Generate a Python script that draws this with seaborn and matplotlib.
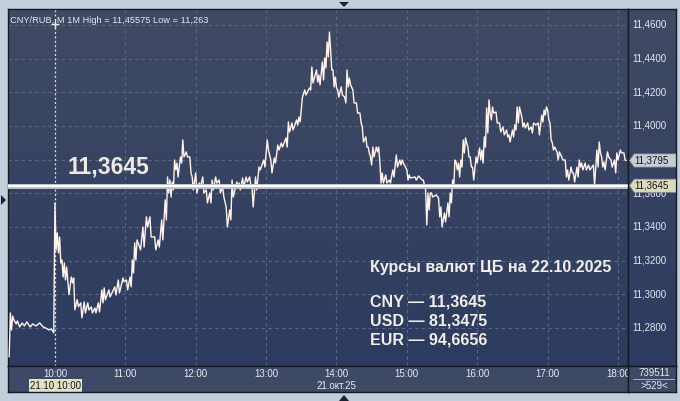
import numpy as np
import pandas as pd
import seaborn as sns
import matplotlib.pyplot as plt
from matplotlib.patches import Polygon, Rectangle
from matplotlib.colors import LinearSegmentedColormap

# previous session tail (minutes relative to 10:00 open)
pre_minutes = [-39, -38, -37, -36, -35, -33, -32, -30, -28, -26,
               -24, -21, -19, -16, -13, -10, -8, -5, -3, -1]
pre_prices = [11.2628, 11.2889, 11.2788, 11.2871, 11.2848, 11.2824, 11.2842, 11.2806, 11.2830, 11.2812,
              11.2836, 11.2806, 11.2824, 11.2812, 11.2830, 11.2806, 11.2800, 11.2788, 11.2794, 11.2771]

day_minutes = [
    0, 1, 2, 3, 4, 5, 6, 7, 8, 9,
    10, 12, 14, 15, 16, 17, 19, 20, 22, 23,
    25, 26, 28, 29, 31, 32, 34, 35, 37, 38,
    40, 41, 42, 43, 46, 47, 51, 52, 54, 55,
    58, 59, 61, 62, 64, 65, 66, 67, 68, 69,
    70, 73, 75, 76, 78, 79, 81, 82, 85, 86,
    88, 89, 91, 92, 94, 95, 96, 97, 98, 99,
    100, 101, 102, 103, 104, 105, 107, 108, 109, 110,
    112, 113, 115, 116, 117, 118, 120, 121, 123, 124,
    126, 127, 129, 130, 132, 133, 134, 135, 137, 138,
    140, 141, 143, 144, 146, 147, 149, 150, 151, 152,
    155, 156, 157, 158, 160, 161, 163, 164, 166, 167,
    168, 169, 171, 172, 174, 175, 178, 179, 181, 182,
    184, 185, 187, 188, 190, 191, 193, 194, 197, 198,
    199, 200, 202, 203, 206, 207, 208, 209, 211, 213,
    214, 217, 218, 219, 220, 223, 224, 225, 226, 228,
    229, 230, 231, 232, 233, 234, 235, 236, 237, 238,
    239, 240, 241, 242, 244, 245, 247, 248, 249, 250,
    251, 252, 254, 255, 257, 258, 260, 261, 262, 263,
    265, 266, 267, 268, 269, 270, 271, 272, 274, 275,
    276, 277, 278, 279, 280, 282, 283, 285, 286, 288,
    289, 291, 292, 294, 295, 296, 297, 300, 301, 302,
    303, 307, 308, 310, 313, 314, 315, 316, 317, 318,
    319, 320, 321, 322, 325, 327, 328, 329, 330, 332,
    333, 335, 336, 337, 338, 339, 340, 341, 342, 343,
    344, 345, 346, 347, 348, 349, 350, 351, 352, 353,
    354, 355, 356, 357, 359, 360, 362, 363, 364, 365,
    366, 367, 368, 369, 370, 371, 372, 373, 374, 376,
    377, 379, 380, 382, 383, 385, 386, 387, 388, 390,
    391, 392, 393, 394, 395, 396, 398, 399, 400, 401,
    403, 404, 406, 407, 408, 410, 412, 413, 415, 416,
    417, 418, 419, 420, 421, 422, 423, 424, 425, 426,
    428, 429, 430, 432, 433, 435, 436, 437, 438, 440,
    441, 442, 443, 445, 446, 447, 448, 449, 450, 452,
    453, 455, 456, 459, 460, 462, 463, 464, 465, 466,
    467, 468, 469, 471, 472, 474, 475, 477, 478, 479,
    480, 482, 483, 485, 486, 487,
]
day_prices = [
    11.3543, 11.3263, 11.3365, 11.3246, 11.3340, 11.3186, 11.3204, 11.3103, 11.3186, 11.3085,
    11.3162, 11.2998, 11.3103, 11.3068, 11.3097, 11.2908, 11.2968, 11.2926, 11.2949, 11.2860,
    11.2955, 11.2889, 11.2949, 11.2907, 11.2925, 11.2889, 11.2919, 11.2889, 11.2949, 11.2895,
    11.3026, 11.2949, 11.3038, 11.2967, 11.3026, 11.2984, 11.3044, 11.2996, 11.3085, 11.3008,
    11.3097, 11.3074, 11.3085, 11.3026, 11.3103, 11.3044, 11.3204, 11.3127, 11.3305, 11.3204,
    11.3323, 11.3264, 11.3400, 11.3281, 11.3460, 11.3400, 11.3460, 11.3341, 11.3341, 11.3264,
    11.3323, 11.3281, 11.3442, 11.3323, 11.3561, 11.3442, 11.3697, 11.3602, 11.3679, 11.3578,
    11.3667, 11.3620, 11.3798, 11.3739, 11.3780, 11.3697, 11.3816, 11.3780, 11.3917, 11.3816,
    11.3846, 11.3816, 11.3816, 11.3721, 11.3697, 11.3620, 11.3721, 11.3602, 11.3661, 11.3638,
    11.3697, 11.3602, 11.3620, 11.3543, 11.3602, 11.3543, 11.3679, 11.3620, 11.3697, 11.3661,
    11.3679, 11.3602, 11.3638, 11.3578, 11.3519, 11.3400, 11.3501, 11.3442, 11.3679, 11.3578,
    11.3667, 11.3638, 11.3661, 11.3620, 11.3691, 11.3638, 11.3697, 11.3667, 11.3697, 11.3650,
    11.3638, 11.3519, 11.3697, 11.3620, 11.3756, 11.3739, 11.3798, 11.3756, 11.3917, 11.3857,
    11.3798, 11.3721, 11.3810, 11.3780, 11.3887, 11.3857, 11.3899, 11.3875, 11.3929, 11.3875,
    11.4024, 11.3964, 11.4018, 11.3976, 11.4036, 11.4006, 11.4053, 11.4024, 11.4172, 11.4214,
    11.4184, 11.4226, 11.4214, 11.4351, 11.4255, 11.4333, 11.4261, 11.4303, 11.4244, 11.4380,
    11.4273, 11.4404, 11.4345, 11.4499, 11.4410, 11.4558, 11.4451, 11.4333, 11.4333, 11.4232,
    11.4291, 11.4226, 11.4214, 11.4172, 11.4232, 11.4184, 11.4172, 11.4137, 11.4333, 11.4232,
    11.4285, 11.4244, 11.4214, 11.4137, 11.4137, 11.4077, 11.4077, 11.4018, 11.3994, 11.3905,
    11.3935, 11.3875, 11.3875, 11.3840, 11.3816, 11.3768, 11.3875, 11.3816, 11.3875, 11.3846,
    11.3875, 11.3780, 11.3661, 11.3721, 11.3661, 11.3709, 11.3661, 11.3679, 11.3661, 11.3739,
    11.3697, 11.3828, 11.3756, 11.3798, 11.3768, 11.3798, 11.3780, 11.3739, 11.3679, 11.3709,
    11.3691, 11.3697, 11.3679, 11.3703, 11.3679, 11.3679, 11.3650, 11.3620, 11.3412, 11.3602,
    11.3501, 11.3602, 11.3602, 11.3578, 11.3590, 11.3572, 11.3460, 11.3519, 11.3400, 11.3483,
    11.3430, 11.3543, 11.3460, 11.3602, 11.3543, 11.3679, 11.3638, 11.3798, 11.3786, 11.3739,
    11.3780, 11.3697, 11.3798, 11.3756, 11.3917, 11.3840, 11.3929, 11.3899, 11.3875, 11.3816,
    11.3816, 11.3756, 11.3756, 11.3679, 11.3816, 11.3780, 11.3869, 11.3798, 11.3857, 11.3780,
    11.3935, 11.3875, 11.4107, 11.3958, 11.4155, 11.4077, 11.4036, 11.4113, 11.4077, 11.4083,
    11.4018, 11.4018, 11.3964, 11.3994, 11.3947, 11.3976, 11.3935, 11.3947, 11.3905, 11.3976,
    11.3935, 11.4006, 11.3976, 11.4113, 11.4018, 11.4113, 11.4053, 11.3994, 11.4018, 11.3988,
    11.4018, 11.3976, 11.3994, 11.3958, 11.4018, 11.4006, 11.4018, 11.3947, 11.4065, 11.4024,
    11.4095, 11.4065, 11.4113, 11.4095, 11.4036, 11.4018, 11.3917, 11.3899, 11.3857, 11.3875,
    11.3846, 11.3798, 11.3846, 11.3816, 11.3798, 11.3798, 11.3697, 11.3739, 11.3679, 11.3756,
    11.3721, 11.3721, 11.3667, 11.3756, 11.3697, 11.3798, 11.3756, 11.3780, 11.3739, 11.3780,
    11.3739, 11.3768, 11.3739, 11.3768, 11.3650, 11.3857, 11.3756, 11.3905, 11.3840, 11.3816,
    11.3756, 11.3786, 11.3739, 11.3846, 11.3816, 11.3798, 11.3756, 11.3798, 11.3721, 11.3840,
    11.3798, 11.3857, 11.3840, 11.3840, 11.3798, 11.3795,
]
assert len(day_minutes) == len(day_prices)

# 11,3800 sits under the last-price tag, so it is not written out
price_ticks = [11.28, 11.30, 11.32, 11.34, 11.36, 11.38, 11.40, 11.42, 11.44, 11.46]
price_labels = ["11,2800", "11,3000", "11,3200", "11,3400", "11,3600", "", "11,4000", "11,4200", "11,4400", "11,4600"]
hour_ticks = [0, 60, 120, 180, 240, 300, 360, 420, 480]
hour_labels = ["10:00", "11:00", "12:00", "13:00", "14:00", "15:00", "16:00", "17:00", "18:00"]

cb_rate = 11.3645
last_price = 11.3795
rates_title = "Курсы валют ЦБ на 22.10.2025"
rates_lines = ["CNY — 11,3645", "USD — 81,3475", "EUR — 94,6656"]

df = pd.DataFrame({"minute": pre_minutes + day_minutes, "price": pre_prices + day_prices})

sns.set_style("white")
plt.rcParams["font.family"] = ["Liberation Sans", "DejaVu Sans"]

W, H = 680, 401
XMIN, XMAX = -40, 488.5
YMIN, YMAX = 11.2574, 11.4695


def box(x0, y0, x1, y1):
    # pixel box (top-left origin) -> figure fraction rect
    return [x0 / W, 1 - y1 / H, (x1 - x0) / W, (y1 - y0) / H]


fig = plt.figure(figsize=(6.8, 4.01), dpi=100, facecolor="#c3cedc")
grad = LinearSegmentedColormap.from_list("bg", ["#404a63", "#2c3b5f"])
gvals = np.linspace(0, 1, 256).reshape(-1, 1)

# main chart
ax = fig.add_axes(box(8, 9, 628, 366))
ax.imshow(gvals, cmap=grad, extent=[XMIN, XMAX, YMIN, YMAX], aspect="auto", zorder=0)
for v in price_ticks:
    ax.axhline(v, color="#5a6682", lw=0.8, ls=(0, (3, 3)), zorder=1)
for m in hour_ticks[1:]:
    ax.axvline(m, color="#5a6682", lw=0.8, ls=(0, (3, 3)), zorder=1)
ax.axvline(0, color="#e8ecf2", lw=0.9, ls=(0, (1.5, 2)), zorder=2)

sns.lineplot(data=df, x="minute", y="price", ax=ax, color="#fff3ec", lw=1.0,
             estimator=None, sort=False, zorder=4)

ax.axhline(cb_rate, color="#b8bdc8", lw=3.6, zorder=5)
ax.axhline(cb_rate, color="#ffffff", lw=1.6, zorder=6)

ax.text(11, 11.3757, "11,3645", fontsize=16.5, fontweight="bold", color="#efe9e3",
        ha="left", va="center", zorder=7)
ax.text(269, 11.3157, rates_title, fontsize=11.5, fontweight="bold", color="#f2efea",
        ha="left", va="center", zorder=7)
for txt, yv in zip(rates_lines, [11.2955, 11.2842, 11.2729]):
    ax.text(269, yv, txt, fontsize=11.5, fontweight="bold", color="#f2efea",
            ha="left", va="center", zorder=7)

ax.text(-38.3, 11.4628, "CNY/RUB, M 1M High = 11,45575 Low = 11,263", fontsize=6.7,
        color="#e6e9ef", ha="left", va="center", zorder=7)
ax.plot([0], [11.4608], marker="+", ms=6, mew=1, color="#e8ecf2", zorder=7)

ax.set_xlim(XMIN, XMAX)
ax.set_ylim(YMIN, YMAX)
ax.set_xticks([])
ax.set_yticks([])
ax.set_xlabel("")
ax.set_ylabel("")
for s in ax.spines.values():
    s.set_color("#151a26")
    s.set_linewidth(1)

# price scale panel
pax = fig.add_axes(box(628, 9, 676, 366))
pax.imshow(gvals, cmap=grad, extent=[0, 1, YMIN, YMAX], aspect="auto", zorder=0)
for v, lab in zip(price_ticks, price_labels):
    pax.text(0.09, v, lab, fontsize=7, color="#e6e9ef", ha="left", va="center", zorder=2)
th = 0.0039
for v, fc, lab in [(last_price, "#c7cbd3", "11,3795"), (cb_rate, "#dadbbb", "11,3645")]:
    pax.add_patch(Polygon([(0.03, v), (0.13, v + th), (1.0, v + th), (1.0, v - th), (0.13, v - th)],
                          closed=True, fc=fc, ec="#8a8f99", lw=0.5, zorder=3))
    pax.text(0.14, v, lab, fontsize=7, color="#15171c", ha="left", va="center", zorder=4)
pax.set_xlim(0, 1)
pax.set_ylim(YMIN, YMAX)
pax.set_xticks([])
pax.set_yticks([])
for s in pax.spines.values():
    s.set_color("#151a26")
    s.set_linewidth(1)

# time axis panel
tax = fig.add_axes(box(8, 366, 628, 392))
tax.set_facecolor("#3e4a65")
for m, lab in zip(hour_ticks, hour_labels):
    tax.text(m, 0.69, lab, fontsize=7, color="#e6e9ef", ha="center", va="center")
tax.text(240.3, 0.23, "21.окт.25", fontsize=7, color="#e6e9ef", ha="center", va="center")
tax.add_patch(Rectangle((-22, 0.0), 45, 0.5, fc="#e4e2c4", ec="none", zorder=2))
tax.text(0.5, 0.24, "21.10 10:00", fontsize=7, color="#15171c", ha="center", va="center", zorder=3)
tax.set_xlim(XMIN, XMAX)
tax.set_ylim(0, 1)
tax.set_xticks([])
tax.set_yticks([])
for s in tax.spines.values():
    s.set_color("#151a26")
    s.set_linewidth(1)

# corner box
bax = fig.add_axes(box(628, 366, 676, 392))
bax.set_facecolor("#3e4a65")
bax.text(0.55, 0.74, "739511", fontsize=7, color="#e6e9ef", ha="center", va="center")
bax.plot([0.1, 0.95], [0.5, 0.5], color="#aab2c2", lw=0.7)
bax.text(0.55, 0.24, ">529<", fontsize=7, color="#e6e9ef", ha="center", va="center")
bax.set_xlim(0, 1)
bax.set_ylim(0, 1)
bax.set_xticks([])
bax.set_yticks([])
for s in bax.spines.values():
    s.set_color("#151a26")
    s.set_linewidth(1)

# window markers
for pts in [[(339, 2), (349, 2), (344, 7)], [(339, 401), (349, 401), (344, 395)],
            [(1, 195), (1, 205), (6, 200)]]:
    fig.patches.append(Polygon([(x / W, 1 - y / H) for x, y in pts], closed=True,
                               fc="#1c2233", ec="none", transform=fig.transFigure, figure=fig))

fig.savefig("out.png", dpi=100, facecolor=fig.get_facecolor())
plt.close(fig)
